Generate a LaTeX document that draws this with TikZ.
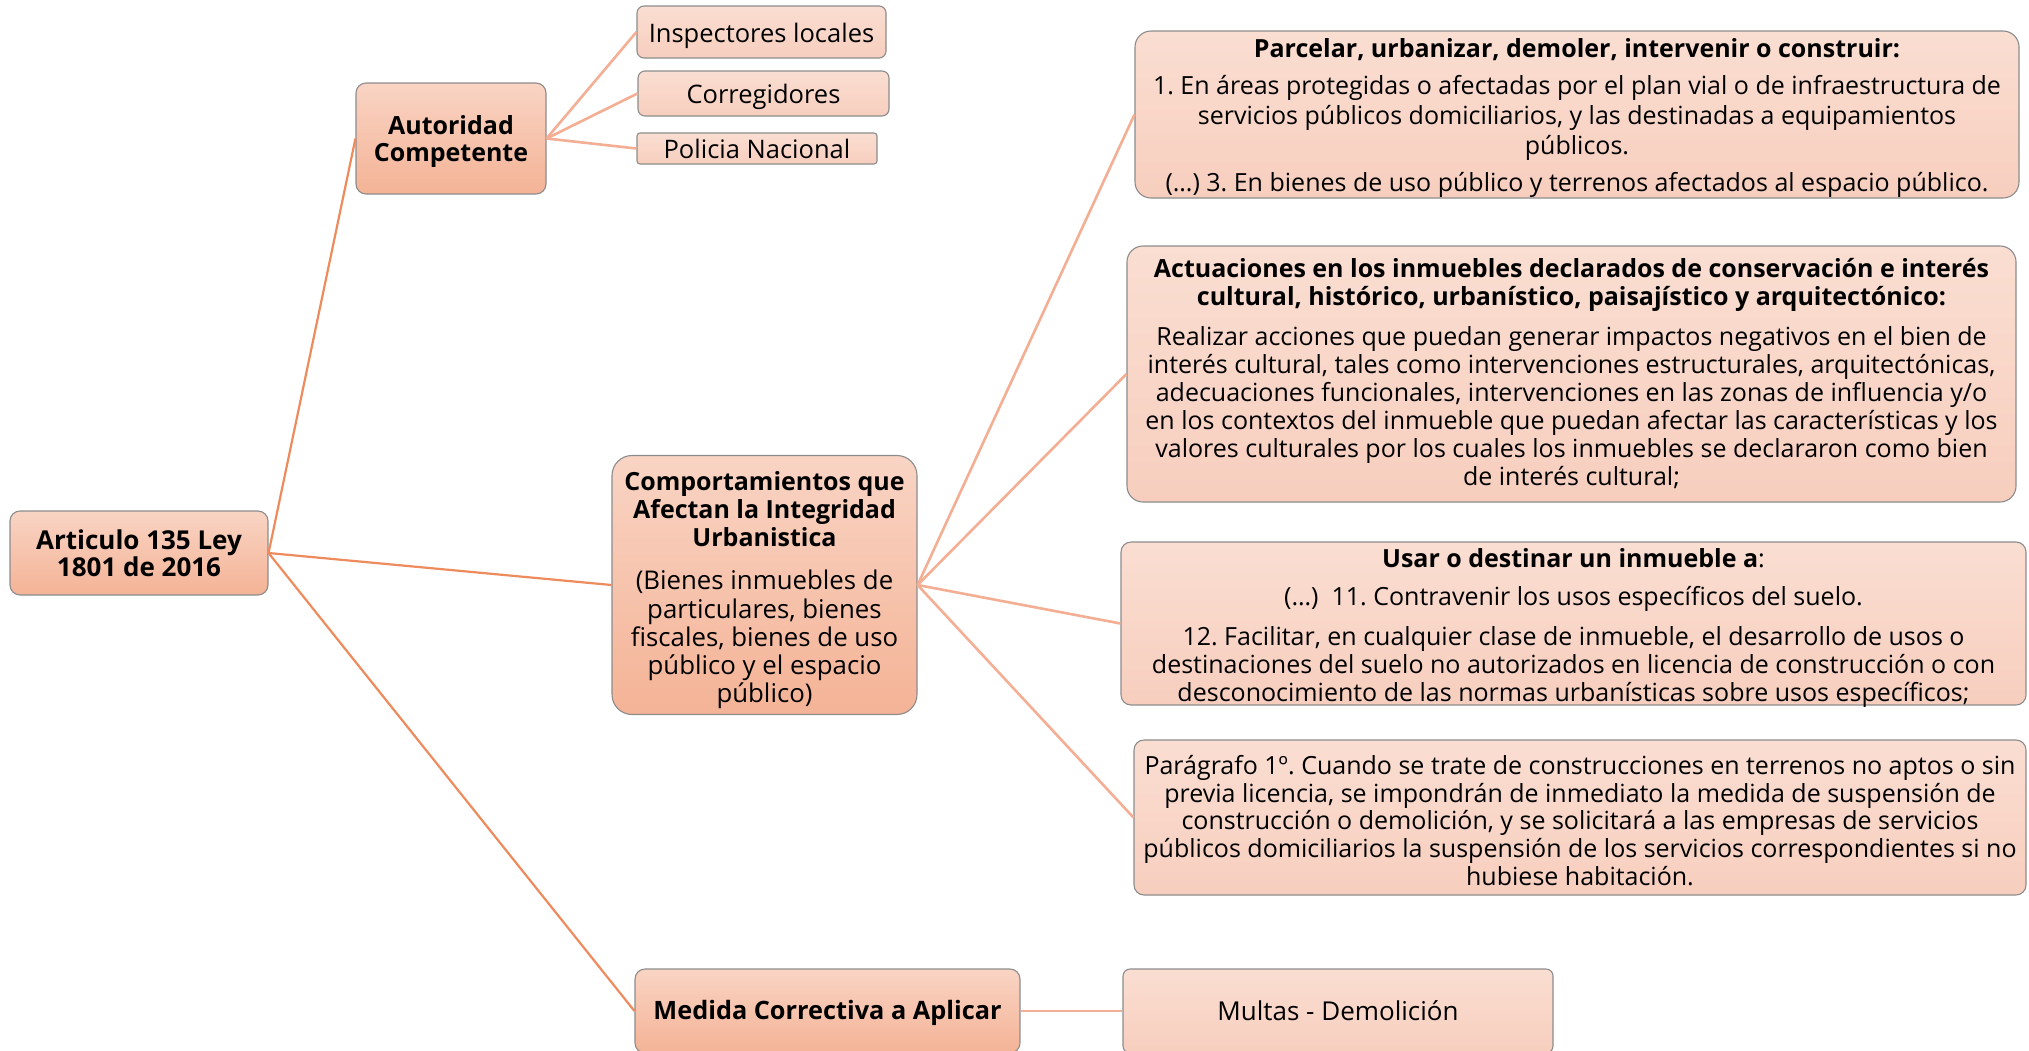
\documentclass[tikz,border=0pt]{standalone}
\usepackage{fontspec}
\setmainfont{Open Sans}
\frenchspacing
\definecolor{mainTop}{HTML}{F9D4C4}
\definecolor{mainBot}{HTML}{F4B396}
\definecolor{leafTop}{HTML}{FADED2}
\definecolor{leafBot}{HTML}{F7CEBE}
\definecolor{boxgray}{HTML}{8C8C8C}
\definecolor{trunkC}{HTML}{EE8B5C}
\definecolor{branchC}{HTML}{F4AE93}
\tikzset{
  basebox/.style={draw=boxgray, line width=1.1pt, inner sep=0pt},
  mainbox/.style={basebox, top color=mainTop, bottom color=mainBot, rounded corners=10pt},
  leafbox/.style={basebox, top color=leafTop, bottom color=leafBot, rounded corners=7pt},
  bigleaf/.style={leafbox, rounded corners=16pt},
  boldtxt/.style={align=center, inner sep=0pt, font=\bfseries\fontsize{25}{27}\selectfont},
  plaintxt/.style={align=center, inner sep=0pt, font=\fontsize{25.5}{28}\selectfont},
  bodytxt/.style={align=center, inner sep=0pt, font=\fontsize{25}{28}\selectfont},
  trunk/.style={draw=trunkC, line width=2.2pt},
  branch/.style={draw=branchC, line width=2.6pt},
}
\begin{document}
\begin{tikzpicture}[x=1pt, y=-1pt]
\useasboundingbox (0,0) rectangle (2029,1050);
% ---------- boxes ----------
\node[mainbox, minimum width=258pt, minimum height=84pt] (root) at (139,553) {};
\node[mainbox, minimum width=190pt, minimum height=111pt] (aut) at (451,138.5) {};
\node[mainbox, rounded corners=20pt, minimum width=305pt, minimum height=259pt] (comp) at (764.5,585) {};
\node[mainbox, minimum width=385pt, minimum height=84pt] (med) at (827.5,1011) {};
\node[leafbox, minimum width=249pt, minimum height=52pt] (insp) at (761.5,32) {};
\node[leafbox, minimum width=251pt, minimum height=45pt] (corr) at (763.5,93.5) {};
\node[leafbox, rounded corners=3pt, minimum width=240pt, minimum height=31pt] (pol) at (757,148.5) {};
\node[bigleaf, minimum width=884pt, minimum height=167pt] (parc) at (1577,114.5) {};
\node[bigleaf, minimum width=889pt, minimum height=256pt] (act) at (1571.5,374) {};
\node[bigleaf, rounded corners=10pt, minimum width=905pt, minimum height=163pt] (usar) at (1573.5,623.5) {};
\node[bigleaf, rounded corners=10pt, minimum width=892pt, minimum height=155pt] (parag) at (1580,817.5) {};
\node[leafbox, minimum width=430pt, minimum height=84pt] (mult) at (1338,1011) {};
% ---------- texts ----------
\node[boldtxt, font=\bfseries\fontsize{26}{27}\selectfont] (rootT) at (root.center) {Articulo 135 Ley\\1801 de 2016};
\node[boldtxt] (autT) at ([yshift=-3pt]aut.center) {Autoridad\\Competente};
\node[plaintxt, font=\fontsize{25.8}{28.2}\selectfont] (compT) at ([yshift=-5pt]comp.center)
  {\textbf{\fontsize{25}{27.8}\selectfont Comportamientos que}\\
   \textbf{\fontsize{25}{27.8}\selectfont Afectan la Integridad}\\
   \textbf{\fontsize{25}{27.8}\selectfont Urbanistica}\\[15pt]
   (Bienes inmuebles de\\particulares, bienes\\fiscales, bienes de uso\\público y el espacio\\público)};
\node[boldtxt, font=\bfseries\fontsize{25.3}{27}\selectfont] (medT) at ([yshift=-2pt]med.center) {Medida Correctiva a Aplicar};
\node[plaintxt] (inspT) at ([yshift=-4pt]insp.center) {Inspectores locales};
\node[plaintxt] (corrT) at ([yshift=-3pt]corr.center) {Corregidores};
\node[plaintxt] (polT) at (pol.center) {Policia Nacional};
\node[bodytxt, font=\fontsize{25}{30}\selectfont] (parcT) at ([yshift=-4pt]parc.center)
  {\textbf{Parcelar, urbanizar, demoler, intervenir o construir:}\\[7pt]
   1. En áreas protegidas o afectadas por el plan vial o de infraestructura de\\
   servicios públicos domiciliarios, y las destinadas a equipamientos\\
   públicos.\\[7pt]
   (…) 3. En bienes de uso público y terrenos afectados al espacio público.};
\node[bodytxt] (actT) at (act.center)
  {\textbf{Actuaciones en los inmuebles declarados de conservación e interés}\\
   \textbf{cultural, histórico, urbanístico, paisajístico y arquitectónico:}\\[12pt]
   Realizar acciones que puedan generar impactos negativos en el bien de\\
   interés cultural, tales como intervenciones estructurales, arquitectónicas,\\
   adecuaciones funcionales, intervenciones en las zonas de influencia y/o\\
   en los contextos del inmueble que puedan afectar las características y los\\
   valores culturales por los cuales los inmuebles se declararon como bien\\
   de interés cultural;};
\node[bodytxt] (usarT) at ([yshift=-4pt]usar.center)
  {\textbf{Usar o destinar un inmueble a}:\\[10pt]
   (…)\ \ 11. Contravenir los usos específicos del suelo.\\[12pt]
   12. Facilitar, en cualquier clase de inmueble, el desarrollo de usos o\\
   destinaciones del suelo no autorizados en licencia de construcción o con\\
   desconocimiento de las normas urbanísticas sobre usos específicos;};
\node[bodytxt, font=\fontsize{25}{27.6}\selectfont] (paragT) at ([yshift=-3pt]parag.center)
  {Parágrafo 1º. Cuando se trate de construcciones en terrenos no aptos o sin\\
   previa licencia, se impondrán de inmediato la medida de suspensión de\\
   construcción o demolición, y se solicitará a las empresas de servicios\\
   públicos domiciliarios la suspensión de los servicios correspondientes si no\\
   hubiese habitación.};
\node[plaintxt, font=\fontsize{26}{28}\selectfont] (multT) at (mult.center) {Multas - Demolición};
% ---------- connectors ----------
\draw[trunk] (root.east) -- (aut.west);
\draw[trunk] (root.east) -- (comp.west);
\draw[trunk] (root.east) -- (med.west);
\draw[branch] (aut.east) -- (insp.west);
\draw[branch] (aut.east) -- (corr.west);
\draw[branch] (aut.east) -- (pol.west);
\draw[branch] (comp.east) -- (parc.west);
\draw[branch] (comp.east) -- (act.west);
\draw[branch] (comp.east) -- (usar.west);
\draw[branch] (comp.east) -- (parag.west);
\draw[branch] (med.east) -- (mult.west);
\end{tikzpicture}
\end{document}
